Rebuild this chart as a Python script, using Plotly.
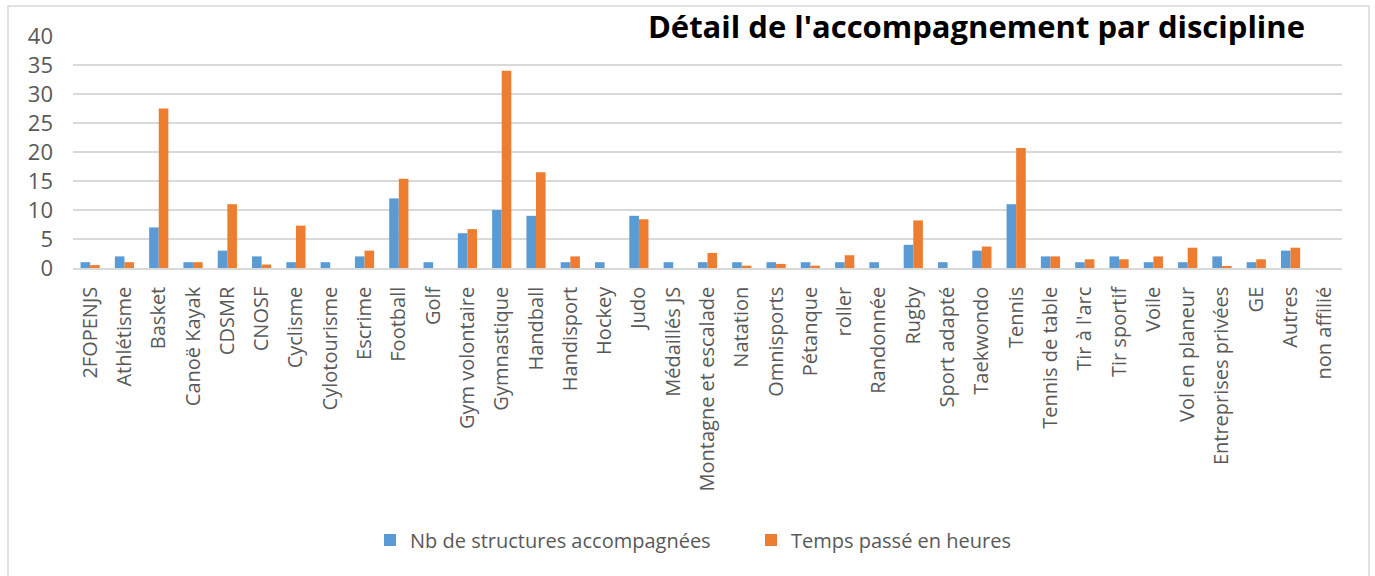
import plotly.graph_objects as go

categories = ["2FOPENJS", "Athlétisme", "Basket", "Canoë Kayak", "CDSMR", "CNOSF", "Cyclisme",
              "Cylotourisme", "Escrime", "Football", "Golf", "Gym volontaire", "Gymnastique",
              "Handball", "Handisport", "Hockey", "Judo", "Médaillés JS", "Montagne et escalade",
              "Natation", "Omnisports", "Pétanque", "roller", "Randonnée", "Rugby", "Sport adapté",
              "Taekwondo", "Tennis", "Tennis de table", "Tir à l'arc", "Tir sportif", "Voile",
              "Vol en planeur", "Entreprises privées", "GE", "Autres", "non affilié"]

nb_structures = [1, 2, 7, 1, 3, 2, 1, 1, 2, 12, 1, 6, 10, 9, 1, 1, 9, 1, 1, 1, 1, 1, 1, 1, 4, 1,
                 3, 11, 2, 1, 2, 1, 1, 2, 1, 3, 0]

temps_heures = [0.5, 1, 27.5, 1, 11, 0.6, 7.3, 0, 3, 15.4, 0, 6.7, 34, 16.5, 2, 0, 8.4, 0, 2.6,
                0.4, 0.7, 0.4, 2.2, 0, 8.2, 0, 3.7, 20.7, 2, 1.5, 1.5, 2, 3.5, 0.3, 1.5, 3.5, 0]

series_names = ["Nb de structures accompagnées", "Temps passé en heures"]
y_ticks = [0, 5, 10, 15, 20, 25, 30, 35, 40]

BLUE = "#5B9BD5"
ORANGE = "#ED7D31"
GRID = "#D9D9D9"
TXT = "#595959"

fig = go.Figure()
fig.add_trace(go.Bar(x=categories, y=nb_structures, name=series_names[0],
                     marker=dict(color=BLUE, line=dict(width=0))))
fig.add_trace(go.Bar(x=categories, y=temps_heures, name=series_names[1],
                     marker=dict(color=ORANGE, line=dict(width=0))))

W, H = 1375, 576
ml, mr, mt, mb = 73, 33, 36, 308
PH = H - mt - mb
PW = W - ml - mr

fig.update_layout(
    width=W, height=H,
    margin=dict(l=ml, r=mr, t=mt, b=mb, pad=0),
    paper_bgcolor="white", plot_bgcolor="white",
    barmode="group", bargap=0.44, bargroupgap=0,
    font=dict(family="Open Sans", color=TXT),
    title=dict(text="<b>Détail de l'accompagnement par discipline</b>",
               font=dict(family="Open Sans", size=31, color="black"),
               xref="paper", x=(1305 - ml) / PW, xanchor="right",
               yref="container", y=1 - 27 / H, yanchor="middle"),
    legend=dict(orientation="h", xref="paper", yref="paper",
                x=(370 - ml) / PW, xanchor="left",
                y=(H - mb - 540) / PH, yanchor="middle",
                font=dict(family="Open Sans", size=20, color=TXT),
                entrywidth=336, entrywidthmode="pixels",
                bgcolor="rgba(0,0,0,0)", itemclick=False),
    xaxis=dict(tickangle=-90, tickfont=dict(family="Open Sans", size=20, color=TXT),
               showgrid=False, showline=True, linecolor=GRID, linewidth=1.5,
               ticks="", fixedrange=True, ticklabelstandoff=9),
    yaxis=dict(range=[0, 40], tickvals=y_ticks, tickfont=dict(family="Open Sans", size=22, color=TXT),
               showgrid=True, gridcolor=GRID, gridwidth=1.5, zeroline=False,
               showline=False, ticks="", fixedrange=True, ticklabelstandoff=19),
    shapes=[dict(type="rect", xref="paper", yref="paper",
                 x0=(8 - ml) / PW, x1=(1369 - ml) / PW,
                 y0=(H - mb - 580) / PH, y1=(H - mb - 6) / PH,
                 line=dict(color=GRID, width=1.5), layer="below")],
)

fig.write_html("out.html", config={"displayModeBar": False},
               post_script="document.body.style.margin='0';document.body.style.padding='0';")
